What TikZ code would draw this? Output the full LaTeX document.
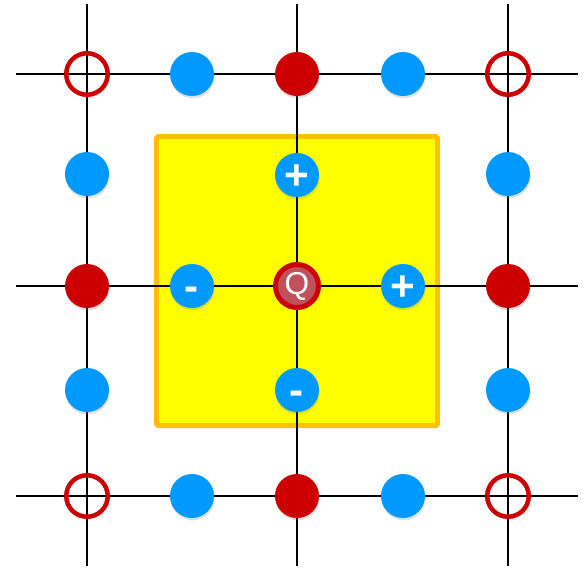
\documentclass[tikz,border=0pt]{standalone}
\usepackage{fontspec}
\setsansfont{Liberation Sans}
\usepackage{tikz}
\usetikzlibrary{positioning,shadows}
\definecolor{dotblue}{RGB}{0,153,255}
\definecolor{dotred}{RGB}{204,0,0}
\definecolor{qred}{RGB}{192,80,90}
\definecolor{boxorange}{RGB}{255,192,0}
\definecolor{boxyellow}{RGB}{255,255,0}
\tikzset{
	dot shadow/.style={drop shadow={shadow xshift=0.4pt,shadow yshift=-1.3pt,opacity=0.25}},
	blue dot/.style={circle,fill=dotblue,minimum size=0.88cm,inner sep=0pt,text=white,font=\sffamily\bfseries\fontsize{24}{24}\selectfont,text height=16.5pt,text depth=0pt,dot shadow},
	red dot/.style={circle,fill=dotred,minimum size=0.88cm,inner sep=0pt,dot shadow},
	ring/.style={circle,draw=dotred,line width=0.09cm,minimum size=0.83cm,inner sep=0pt},
	grid line/.style={black,line width=1.1pt}
}
\begin{document}
\begin{tikzpicture}
		\useasboundingbox (-5.94,-5.64) rectangle (5.78,5.72);
		\coordinate (v1t) at (-4.2,5.64);  \coordinate (v1b) at (-4.2,-5.6);
		\coordinate (v2t) at (0,5.64);     \coordinate (v2b) at (0,-5.6);
		\coordinate (v3t) at (4.22,5.64);  \coordinate (v3b) at (4.22,-5.6);
		\coordinate (h1l) at (-5.62,4.24); \coordinate (h1r) at (5.62,4.24);
		\coordinate (h2l) at (-5.62,0);    \coordinate (h2r) at (5.62,0);
		\coordinate (h3l) at (-5.62,-4.2); \coordinate (h3r) at (5.62,-4.2);
		
		\node[draw=boxorange,fill=boxyellow,line width=0.1cm,rounded corners=1pt,minimum width=5.62cm,minimum height=5.78cm] (box) at (0,0.1) {};
		
		\draw[grid line] (v1t)--(v1b);
		\draw[grid line] (v2t)--(v2b);
		\draw[grid line] (v3t)--(v3b);
		\draw[grid line] (h1l)--(h1r);
		\draw[grid line] (h2l)--(h2r);
		\draw[grid line] (h3l)--(h3r);
		
		% corners
		\node[ring] (ringTL) at (-4.2,4.24) {};
		\node[ring] (ringTR) at (4.22,4.24) {};
		\node[ring] (ringBL) at (-4.2,-4.2) {};
		\node[ring] (ringBR) at (4.22,-4.2) {};
		% edge centres
		\node[red dot] (redT) at (0,4.24) {};
		\node[red dot] (redL) at (-4.2,0) {};
		\node[red dot] (redR) at (4.22,0) {};
		\node[red dot] (redB) at (0,-4.2) {};
		% outer blue
		\node[blue dot] (blueTL) at (-2.1,4.24) {};
		\node[blue dot] (blueTR) at (2.12,4.24) {};
		\node[blue dot] (blueBL) at (-2.1,-4.2) {};
		\node[blue dot] (blueBR) at (2.12,-4.2) {};
		\node[blue dot] (blueLT) at (-4.2,2.24) {};
		\node[blue dot] (blueLB) at (-4.2,-2.08) {};
		\node[blue dot] (blueRT) at (4.22,2.24) {};
		\node[blue dot] (blueRB) at (4.22,-2.08) {};
		% inner charges
		\node[blue dot] (plusT) at (0,2.22) {+};
		\node[blue dot] (minusL) at (-2.1,0) {-};
		\node[blue dot] (plusR) at (2.12,0) {+};
		\node[blue dot] (minusB) at (0,-2.08) {-};
		\node[circle,fill=qred,draw=dotred,line width=0.1cm,minimum size=0.86cm,inner sep=0pt,text=white,font=\sffamily\fontsize{18}{18}\selectfont] (Q) at (0,0) {Q};
	\end{tikzpicture}
\end{document}
